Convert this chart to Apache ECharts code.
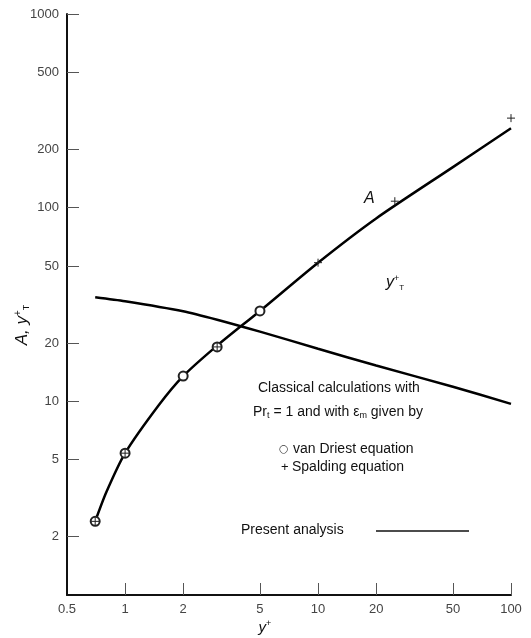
<!DOCTYPE html>
<html><head><meta charset="utf-8">
<script src="https://cdn.jsdelivr.net/npm/echarts@6/dist/echarts.min.js"></script>
<style>html,body{margin:0;padding:0;background:#fff}#c{width:531px;height:638px}</style>
</head><body><div id="c"></div>
<script>
const xTicks = [1, 2, 5, 10, 20, 50, 100];
const xLabels = [0.5, 1, 2, 5, 10, 20, 50, 100];
const yTicks = [2, 5, 10, 20, 50, 100, 200, 500, 1000];
const curveA = [[0.7,2.4],[0.8,3.4],[1,5.4],[1.5,9.6],[2,13.5],[3,19.4],[5,29.3],[10,52],[20,88],[50,162],[100,257]];
const curveYT = [[0.7,34.5],[1,32.9],[2,29.2],[3,26.4],[5,22.9],[10,18.7],[20,15.3],[50,11.9],[100,9.7]];
const vanDriest = [[0.7,2.4],[1,5.4],[2,13.5],[3,19.1],[5,29.3]];
const spalding = [[0.7,2.4],[1,5.4],[3,19.1],[10,52],[25,108],[100,290]];

const chart = echarts.init(document.getElementById('c'), null, {renderer:'canvas'});
const tickFont = 'Liberation Sans';
const fmt = v => (Math.abs(v - 0.5) < 1e-6 ? '0.5' : String(Math.round(v)));
const plusPath = 'path://M5,0L5,10M0,5L10,5';
const txt = (x, y, text, extra) => ({type:'text', z:10, style:Object.assign({x, y, text, fill:'#111', font:'14px "Liberation Sans"', verticalAlign:'middle', align:'left'}, extra||{})});

chart.setOption({
  animation:false,
  backgroundColor:'#fff',
  grid:{left:67, right:20, top:14, bottom:43},
  xAxis:{
    type:'log', logBase:10, min:0.5, max:100,
    axisLine:{show:true, onZero:false, lineStyle:{color:'#111', width:2}},
    axisTick:{show:true, inside:true, length:12, customValues:xTicks, lineStyle:{color:'#555', width:1}},
    axisLabel:{customValues:xLabels, formatter:fmt, color:'#444', fontFamily:tickFont, fontSize:13, margin:8},
    splitLine:{show:false}, minorTick:{show:false}
  },
  yAxis:{
    type:'log', logBase:10, min:1, max:1000,
    axisLine:{show:true, onZero:false, lineStyle:{color:'#111', width:2}},
    axisTick:{show:true, inside:true, length:12, customValues:yTicks, lineStyle:{color:'#555', width:1}},
    axisLabel:{customValues:yTicks, formatter:fmt, color:'#444', fontFamily:tickFont, fontSize:13, margin:8},
    splitLine:{show:false}, minorTick:{show:false}
  },
  series:[
    {type:'line', data:curveA, smooth:0.25, symbol:'none', lineStyle:{color:'#000', width:2.5}, z:2},
    {type:'line', data:curveYT, smooth:0.25, symbol:'none', lineStyle:{color:'#000', width:2.5}, z:2},
    {type:'scatter', data:vanDriest, symbol:'emptyCircle', symbolSize:9, itemStyle:{color:'#222', borderColor:'#222', borderWidth:1, opacity:1}, z:4},
    {type:'scatter', data:spalding, symbol:plusPath, symbolSize:8, itemStyle:{color:'none', borderColor:'#222', borderWidth:1, opacity:1}, z:5}
  ],
  graphic:[
    {type:'text', z:10, rotation:Math.PI/2, x:22, y:325, style:{text:'{i|A, y}{s|+}{b|T}', align:'center', verticalAlign:'middle', fill:'#111',
      rich:{i:{font:'italic 17px "Liberation Sans"', fill:'#111'}, s:{font:'10px "Liberation Sans"', fill:'#111', verticalAlign:'top', padding:[0,0,8,0]}, b:{font:'9px "Liberation Sans"', fill:'#111', verticalAlign:'bottom', padding:[8,0,0,0]}}}},
    {type:'text', z:10, x:265, y:628, style:{text:'{i|y}{s|+}', align:'center', verticalAlign:'middle',
      rich:{i:{font:'italic 15px "Liberation Sans"', fill:'#111'}, s:{font:'9px "Liberation Sans"', fill:'#111', verticalAlign:'top', padding:[0,0,8,0]}}}},
    txt(364, 199, 'A', {font:'italic 16px "Liberation Sans"'}),
    {type:'text', z:10, x:386, y:283, style:{text:'{i|y}{s|+}{b|T}', align:'left', verticalAlign:'middle',
      rich:{i:{font:'italic 16px "Liberation Sans"', fill:'#111'}, s:{font:'9px "Liberation Sans"', fill:'#111', verticalAlign:'top', padding:[0,0,9,0]}, b:{font:'8px "Liberation Sans"', fill:'#111', verticalAlign:'bottom', padding:[8,0,0,0]}}}},
    txt(258, 388, 'Classical calculations with'),
    {type:'text', z:10, x:253, y:412, style:{text:'{n|Pr}{b|t}{n| = 1 and with }{n|ε}{b|m}{n| given by}', align:'left', verticalAlign:'middle',
      rich:{n:{font:'14px "Liberation Sans"', fill:'#111'}, b:{font:'9px "Liberation Sans"', fill:'#111', verticalAlign:'bottom', padding:[8,0,0,0]}}}},
    txt(279, 449, '○', {font:'11px "DejaVu Sans"', fill:'#333'}),
    txt(293, 449, 'van Driest equation'),
    txt(281, 467, '+', {font:'13px "Liberation Sans"'}),
    txt(292, 467, 'Spalding equation'),
    txt(241, 530, 'Present analysis'),
    {type:'line', z:10, shape:{x1:376, y1:531, x2:469, y2:531}, style:{stroke:'#111', lineWidth:1.5}}
  ]
});
</script></body></html>
